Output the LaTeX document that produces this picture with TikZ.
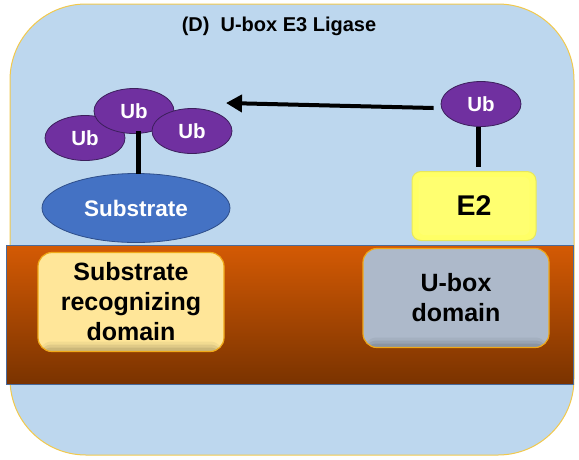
\documentclass[tikz,border=0pt]{standalone}
\usepackage{fontspec}
\setmainfont{Liberation Sans}
\usetikzlibrary{arrows.meta,shapes.geometric,calc}

\definecolor{bgblue}{HTML}{BDD7EE}
\definecolor{rimgold}{HTML}{F2C94C}
\definecolor{ubpurple}{HTML}{7030A0}
\definecolor{ubedge}{HTML}{3C1F5C}
\definecolor{subblue}{HTML}{4472C4}
\definecolor{subedge}{HTML}{2E4E8A}
\definecolor{bandtop}{HTML}{D45A04}
\definecolor{bandbot}{HTML}{7A3300}
\definecolor{bandedge}{HTML}{4A6A9A}
\definecolor{e2yellow}{HTML}{FFFF66}
\definecolor{e2rim}{HTML}{E8E85A}
\definecolor{e2face}{HTML}{FFFF70}
\definecolor{srdfill}{HTML}{FFE699}
\definecolor{uboxfill}{HTML}{ADB9CA}
\definecolor{domedge}{HTML}{F0A818}

\tikzset{
  ubnode/.style={ellipse, draw=ubedge, line width=0.8pt, fill=ubpurple,
    minimum width=80pt, minimum height=45pt, inner sep=0pt,
    text=white, font=\bfseries\fontsize{20.5}{22}\selectfont},
  subnode/.style={ellipse, draw=subedge, line width=0.8pt, fill=subblue,
    minimum width=188pt, minimum height=69pt, inner sep=0pt,
    text=white, font=\bfseries\fontsize{22.5}{24}\selectfont},
  stem/.style={line width=5pt, black},
  % rounded domain box with a soft inner shadow along its bottom edge,
  % built from thin strips that darken towards the bottom
  domainbox/.style={rounded corners=14pt, draw=domedge, line width=1.2pt,
    fill=#1,
    path picture={
      \fill[#1!95!black] ($(path picture bounding box.south west)+(0,-10)$)
        rectangle (path picture bounding box.south east);
      \fill[#1!88!black] ($(path picture bounding box.south west)+(0,-7)$)
        rectangle (path picture bounding box.south east);
      \fill[#1!80!black] ($(path picture bounding box.south west)+(0,-4)$)
        rectangle (path picture bounding box.south east);
    },
    minimum width=186pt, minimum height=99pt, inner sep=0pt, align=center,
    font=\bfseries\fontsize{25}{30}\selectfont},
  e2box/.style={rounded corners=9pt, draw=e2rim, line width=1pt, fill=e2yellow,
    minimum width=124pt, minimum height=69pt, inner sep=0pt,
    font=\bfseries\fontsize{28.5}{30}\selectfont},
}

\begin{document}
\begin{tikzpicture}[x=1pt,y=-1pt]
\useasboundingbox (0,0) rectangle (579,459);

% outer panel
\draw[rimgold, line width=1pt, fill=bgblue, rounded corners=76pt]
  (10,4) rectangle (574,455);

% membrane band with vertical gradient
\shade[top color=bandtop, bottom color=bandbot] (6,245) rectangle (573,384);
\draw[bandedge, line width=1pt] (6,245) rectangle (573,384);

% title
\node (title) at (279,26) {\bfseries\fontsize{20}{22}\selectfont (D)\ \ U-box E3 Ligase};

% domains in the band
\node[domainbox=srdfill] (srd) at (131,302)
  {Substrate\\recognizing\\domain};
\node[domainbox=uboxfill] (ubox) at (456,298) {U-box\\domain};

% substrate with its ubiquitin chain
\node[subnode] (substrate) at (136,208) {Substrate};
\node[ubnode] (ubl) at (85,138) {Ub};
\node[ubnode] (ubt) at (134,111) {Ub};
\node[ubnode] (ubr) at (192,131) {Ub};
\draw[stem] ($(ubt.south)+(4,-3)$) -- ($(substrate.north)+(2,1)$);

% E2 carrying ubiquitin, with a bevelled face
\node[e2box] (e2) at (474,206) {};
\fill[e2face, rounded corners=6pt] ($(e2.south west)+(7,-6)$) rectangle ($(e2.north east)+(-7,6)$);
\node[font=\bfseries\fontsize{28.5}{30}\selectfont] (e2label) at (e2.center) {E2};
\node[ubnode] (ube2) at (481,104) {Ub};
\draw[stem] ($(ube2.south)+(-3,0)$) -- ($(e2.north)+(4,-4)$);

% transfer arrow
\coordinate (tip) at (226,103);
\draw[line width=4pt, -{Triangle[length=16pt,width=17pt]}]
  ($(ube2.west)+(-7,4)$) -- (tip);
\end{tikzpicture}
\end{document}
